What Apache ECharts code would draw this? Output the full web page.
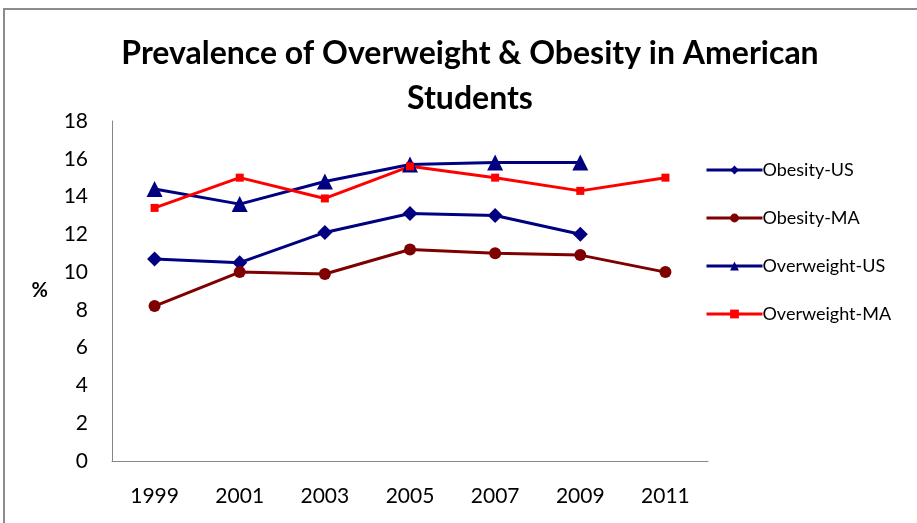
<!DOCTYPE html>
<html>
<head>
<meta charset="utf-8">
<script src="https://cdn.jsdelivr.net/npm/echarts@6/dist/echarts.min.js"></script>
<style>
  html, body { margin: 0; padding: 0; background: #fff; }
  #main { width: 917px; height: 523px; }
</style>
</head>
<body>
<div id="main"></div>
<script>
var years = ['1999', '2001', '2003', '2005', '2007', '2009', '2011'];
var obesityUS = [10.7, 10.5, 12.1, 13.1, 13.0, 12.0, null];
var obesityMA = [8.2, 10.0, 9.9, 11.2, 11.0, 10.9, 10.0];
var overweightUS = [14.4, 13.6, 14.8, 15.7, 15.8, 15.8, null];
var overweightMA = [13.4, 15.0, 13.9, 15.6, 15.0, 14.3, 15.0];

var FONT = 'Lato';
var chart = echarts.init(document.getElementById('main'));

function line(name, data, color, symbol, size) {
  return {
    name: name,
    type: 'line',
    data: data,
    symbol: symbol,
    symbolSize: size,
    lineStyle: { color: color, width: 3 },
    itemStyle: { color: color },
    connectNulls: false,
    animation: false
  };
}

var option = {
  animation: false,
  title: {
    text: 'Prevalence of Overweight & Obesity in American\nStudents',
    left: 465,
    textAlign: 'center',
    top: 26,
    textStyle: { fontFamily: FONT, fontSize: 32, fontWeight: 'bold', color: '#000', lineHeight: 45 }
  },
  legend: {
    orient: 'vertical',
    left: 700,
    top: 156,
    itemWidth: 56,
    itemHeight: 11,
    itemGap: 30,
    lineStyle: { width: 3 },
    textStyle: { fontFamily: FONT, fontSize: 18, color: '#000', padding: [0, 0, 0, -5] },
    data: ['Obesity-US', 'Obesity-MA', 'Overweight-US', 'Overweight-MA']
  },
  grid: { left: 112, right: 209, top: 121, bottom: 62 },
  xAxis: {
    type: 'category',
    data: years,
    boundaryGap: true,
    axisLine: { lineStyle: { color: '#868686', width: 1 } },
    axisTick: { show: false },
    axisLabel: { fontFamily: FONT, fontSize: 21, color: '#000', margin: 25 }
  },
  yAxis: {
    type: 'value',
    min: 0,
    max: 18,
    interval: 2,
    name: '%',
    nameLocation: 'middle',
    nameRotate: 0,
    nameGap: 64,
    nameTextStyle: { fontFamily: FONT, fontSize: 20, fontWeight: 'bold', color: '#000' },
    splitLine: { show: false },
    axisLine: { show: true, lineStyle: { color: '#868686', width: 1 } },
    axisTick: { show: false },
    axisLabel: { fontFamily: FONT, fontSize: 21, color: '#000', margin: 24 }
  },
  graphic: [{
    type: 'rect',
    shape: { x: 4, y: 9, width: 940, height: 540 },
    style: { fill: 'none', stroke: '#8c8c8c', lineWidth: 2 },
    silent: true
  }],
  series: [
    line('Obesity-US', obesityUS, '#000080', 'diamond', 15),
    line('Obesity-MA', obesityMA, '#7f0000', 'circle', 12),
    line('Overweight-US', overweightUS, '#000080', 'triangle', 16),
    line('Overweight-MA', overweightMA, '#ff0000', 'rect', 8)
  ]
};

chart.setOption(option);
</script>
</body>
</html>
